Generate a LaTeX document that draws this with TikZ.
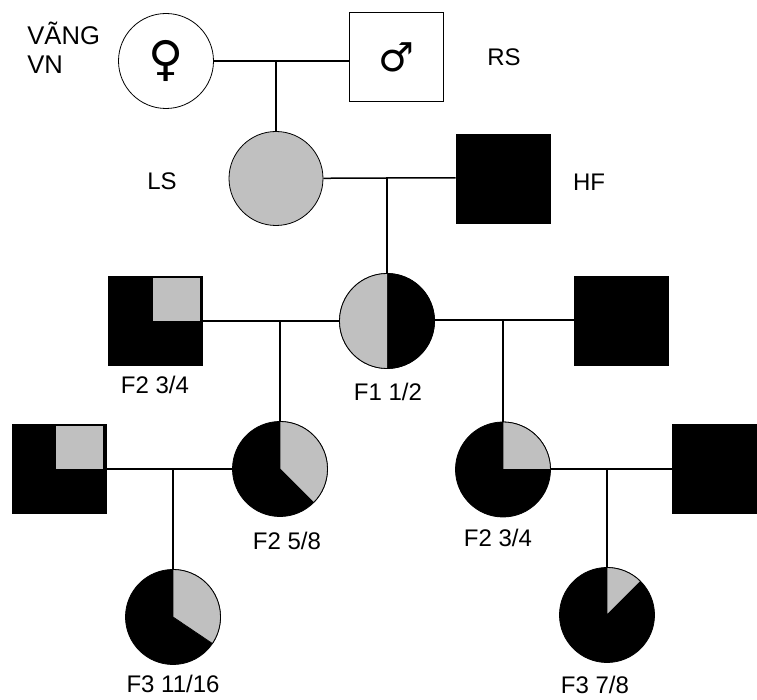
\documentclass[tikz,border=0pt]{standalone}
\usepackage{fontspec}
\setmainfont{Liberation Sans}
\newfontfamily\symbolfont{DejaVu Sans}
\definecolor{silver}{RGB}{192,192,192}

\begin{document}
\begin{tikzpicture}[x=0.5pt, y=0.5pt,
    female/.style={circle, draw, line width=0.4pt, minimum size=47.5pt, inner sep=0pt},
    male/.style={rectangle, draw, line width=0.4pt, minimum width=47pt, minimum height=44.5pt, inner sep=0pt},
    tag/.style={font=\fontsize{12}{14.5}\selectfont, anchor=base, inner sep=0pt},
    wedge/.style={fill=silver, draw=black, line width=0.4pt},
    link/.style={line width=0.75pt}]
    \useasboundingbox (0,0) rectangle (757,-700);

    % Generation P: the two founders
    \node[female, fill=white] (vang) at (166,-61) {\symbolfont\bfseries\fontsize{24}{24}\selectfont ♀};
    \node[male, fill=white] (rs) at (396,-57) {\symbolfont\bfseries\fontsize{20}{20}\selectfont ♂};
    \node[tag, align=left, anchor=base west, font=\fontsize{12.8}{14.5}\selectfont] (vanglbl) at (27,-74) {VÃNG\\VN};
    \node[tag] (rslbl) at (504,-65.5) {RS};
    \coordinate (m1) at (276,-61);
    \draw[link] (vang) -- (m1) -- (m1 -| rs.west);

    % LS (gray) x HF (black)
    \node[female, fill=silver, minimum size=47pt] (ls) at (276,-178.5) {};
    \node[male, fill=black] (hf) at (503,-179) {};
    \node[tag] (lslbl) at (162,-189.5) {LS};
    \node[tag] (hflbl) at (589,-190.5) {HF};
    \draw[link] (m1) -- (ls);
    \coordinate (m2) at (387,-178);
    \draw[link] (ls) -- (m2) -- (m2 -| hf.west);

    % F1 1/2 and her two mates
    \node[female, fill=black] (f1) at (387,-321) {};
    \fill[silver] (f1.center) -- ++(90:23.75pt) arc[start angle=90, end angle=270, radius=23.75pt] -- cycle;
    \draw[line width=0.4pt] (f1.center) circle[radius=23.75pt];
    \draw[link] (m2) -- (f1);
    \node[tag] (f1lbl) at (388,-400.5) {F1 1/2};

    \node[male, fill=black] (lf2) at (155.5,-321) {};
    \fill[silver] ([xshift=-1.5pt]lf2.center) rectangle ([xshift=-1.5pt, yshift=-1pt]lf2.north east);
    \node[tag] (lf2lbl) at (155,-394) {F2 3/4};
    \node[male, fill=black] (rm1) at (621,-320.5) {};

    \coordinate (m3) at (280,-321);
    \coordinate (m4) at (503,-320);
    \draw[link] (lf2.east) -- (f1.west);
    \draw[link] (f1.east |- m4) -- (m4 -| rm1.west);

    % F2 5/8 x F2 3/4 male (left)
    \node[female, fill=black] (f2a) at (280,-469) {};
    \filldraw[wedge] (f2a.center) -- ++(90:23.75pt) arc[start angle=90, end angle=-45, radius=23.75pt] -- cycle;
    \node[tag] (f2albl) at (287,-550) {F2 5/8};
    \node[male, fill=black] (lm3) at (59,-469) {};
    \fill[silver] ([xshift=-1.5pt]lm3.center) rectangle ([xshift=-1.5pt, yshift=-1pt]lm3.north east);
    \draw[link] (m3) -- (f2a);
    \coordinate (m5) at (173,-469);
    \draw[link] (lm3.east) -- (f2a.west);

    % F2 3/4 x black male (right)
    \node[female, fill=black] (f2b) at (503,-469.5) {};
    \filldraw[wedge] (f2b.center) -- ++(90:23.75pt) arc[start angle=90, end angle=0, radius=23.75pt] -- cycle;
    \node[tag] (f2blbl) at (498,-546.5) {F2 3/4};
    \node[male, fill=black, minimum width=42.5pt] (rm2) at (714.5,-469) {};
    \draw[link] (m4) -- (f2b);
    \coordinate (m6) at (607,-469);
    \draw[link] (f2b.east |- m6) -- (m6 -| rm2.west);

    % Generation F3
    \node[female, fill=black] (f3a) at (173,-617) {};
    \filldraw[wedge] (f3a.center) -- ++(90:23.75pt) arc[start angle=90, end angle=-34, radius=23.75pt] -- cycle;
    \node[tag] (f3albl) at (173,-693) {F3 11/16};
    \draw[link] (m5) -- (f3a);

    \node[female, fill=black] (f3b) at (607,-615) {};
    \filldraw[wedge] (f3b.center) -- ++(90:23.75pt) arc[start angle=90, end angle=45, radius=23.75pt] -- cycle;
    \node[tag] (f3blbl) at (595,-694) {F3 7/8};
    \draw[link] (m6) -- (f3b);
\end{tikzpicture}
\end{document}
